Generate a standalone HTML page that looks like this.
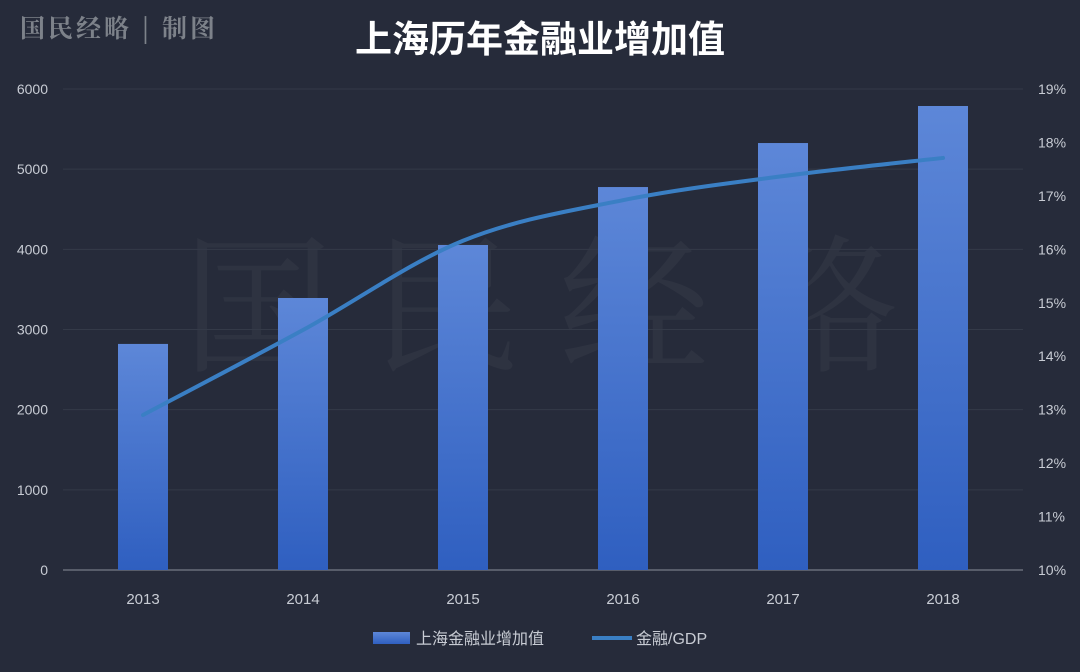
<!DOCTYPE html>
<html><head><meta charset="utf-8"><style>
body{margin:0;background:#262b3a;width:1080px;height:667px;overflow:hidden;font-family:"Liberation Sans","Noto Sans CJK SC",sans-serif}
</style></head><body>
<svg id="c" width="1080" height="667">
<defs><linearGradient id="bg" x1="0" y1="0" x2="0" y2="1"><stop offset="0" stop-color="#5d87d8"/><stop offset="1" stop-color="#2f5fc0"/></linearGradient></defs>
<text x="20" y="37" font-size="25" letter-spacing="3" fill="#7d828a" font-family="'Noto Serif CJK SC',serif" font-weight="bold">国民经略 | 制图</text>
<text x="540" y="52" font-size="37" fill="#ffffff" font-weight="bold" text-anchor="middle">上海历年金融业增加值</text>
<text x="540" y="360" font-size="150" fill="#ffffff" fill-opacity="0.04" text-anchor="middle" font-family="'Noto Serif CJK SC',serif">国 民 经 略</text>
<g id="grid"></g><g id="bars"></g><g id="line"></g>
<g>
<rect x="373" y="632" width="37" height="12" fill="url(#bg)"/>
<text x="416" y="644" font-size="16" fill="#c8ccd4">上海金融业增加值</text>
<line x1="592" y1="638" x2="632" y2="638" stroke="#3a7fc4" stroke-width="4"/>
<text x="636" y="644" font-size="16" fill="#c8ccd4">金融/GDP</text>
</g>
</svg>
<script>
const years=["2013","2014","2015","2016","2017","2018"];
const finValue=[2820,3393,4054,4777,5326,5788];
const finRatio=[12.9,14.49,16.16,16.92,17.37,17.71];
const leftTicks=[0,1000,2000,3000,4000,5000,6000];
const rightTicks=[10,11,12,13,14,15,16,17,18,19];
const NS="http://www.w3.org/2000/svg";
const x0=63,x1=1023,yb=570,yt=89;
const yL=v=>yb-(v/6000)*(yb-yt);
const yR=v=>yb-((v-10)/9)*(yb-yt);
const xC=i=>x0+(i+0.5)*(x1-x0)/years.length;
function mk(t,a,p){const e=document.createElementNS(NS,t);for(const k in a)e.setAttribute(k,a[k]);p.appendChild(e);return e;}
const g=document.getElementById('grid');
leftTicks.forEach(v=>{
 const l=mk('line',{x1:x0,x2:x1,y1:yL(v),y2:yL(v),stroke:v===0?'#8a8f99':'#343a48','stroke-width':1},g);
 
 
 const t=mk('text',{x:48,y:yL(v)+5,'font-size':14,fill:'#c8ccd4','text-anchor':'end'},g);t.textContent=v;
 
 
});
rightTicks.forEach(v=>{
 const t=mk('text',{x:1038,y:yR(v)+5,'font-size':14,fill:'#c8ccd4'},g);t.textContent=v+'%';
 
 
});
const b=document.getElementById('bars');
years.forEach((y,i)=>{
 const r=mk('rect',{x:xC(i)-25,y:yL(finValue[i]),width:50,height:yb-yL(finValue[i]),fill:'url(#bg)'},b);
 
 
 const t=mk('text',{x:xC(i),y:604,'font-size':15,fill:'#c8ccd4','text-anchor':'middle'},b);t.textContent=y;
 
 
});
const pts=finRatio.map((v,i)=>[xC(i),yR(v)]);
let d='M'+pts[0][0]+','+pts[0][1];
for(let i=0;i<pts.length-1;i++){
 const p0=pts[Math.max(0,i-1)],p1=pts[i],p2=pts[i+1],p3=pts[Math.min(pts.length-1,i+2)];
 const c1=[p1[0]+(p2[0]-p0[0])/6,p1[1]+(p2[1]-p0[1])/6],c2=[p2[0]-(p3[0]-p1[0])/6,p2[1]-(p3[1]-p1[1])/6];
 d+=' C'+c1+' '+c2+' '+p2;
}
const ln=mk('path',{d:d,fill:'none',stroke:'#3a7fc4','stroke-width':4,'stroke-linecap':'round'},document.getElementById('line'));


</script>
</body></html>
